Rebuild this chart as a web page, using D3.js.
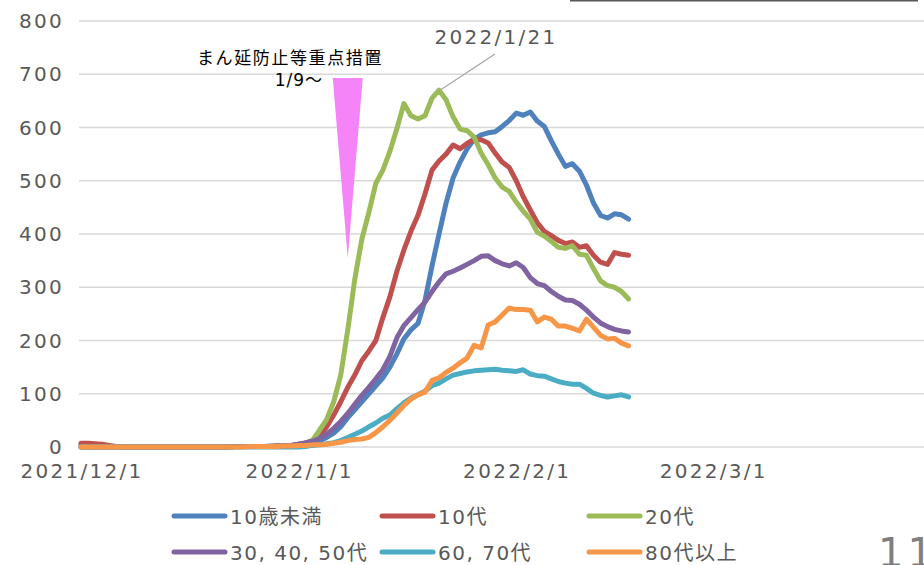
<!DOCTYPE html>
<html>
<meta charset="utf-8">
<style>
body {
  margin: 0;
  background: #fff;
}
svg {
  display: block;
}
.tick-label {
  font: 20px "DejaVu Sans", "Noto Sans CJK JP", sans-serif;
  fill: #595959;
  letter-spacing: 2.3px;
}
.legend text {
  font: 20px "DejaVu Sans", "Noto Sans CJK JP", sans-serif;
  fill: #595959;
  letter-spacing: 1.5px;
}
.grid line {
  stroke: #d9d9d9;
  stroke-width: 1.5;
}
.series {
  fill: none;
  stroke-width: 5;
  stroke-linejoin: round;
  stroke-linecap: round;
}
</style>
<body>
<script src="https://d3js.org/d3.v7.min.js"></script>
<script>
var width = 924, height = 565;

// daily values, 2021/12/1 .. 2022/2/17
var start = new Date(Date.UTC(2021, 11, 1));
var dates = d3.range(79).map(function(i) { return d3.utcDay.offset(start, i); });

var names = ["10歳未満", "10代", "20代", "30, 40, 50代", "60, 70代", "80代以上"];
var colors = ["#4f81bd", "#c0504d", "#9bbb59", "#8064a2", "#4bacc6", "#f79646"];

var under10 = [4,4,3,2,1,1,0,0,0,0, 0,0,0,0,0,0,0,0,0,0, 0,1,1,1,1,1,1,2,2,3,
  3,5,7,9,12,18,26,38,55,70, 85,100,115,130,150,175,203,220,232,275,
  340,400,458,505,535,560,578,586,590,592, 602,613,627,623,629,612,602,575,550,527,
  532,518,492,458,435,430,438,436,428];
var teens = [7,7,6,5,3,1,0,0,0,0, 0,0,0,0,0,0,0,0,0,0, 0,0,1,1,1,1,1,1,2,2,
  3,5,7,9,20,38,60,85,112,135, 162,180,200,243,282,330,370,405,435,475,
  520,537,550,567,560,570,578,577,571,552, 535,525,500,470,445,421,405,397,388,382,
  385,375,378,360,347,343,365,362,360];
var twenties = [0,0,0,0,0,0,0,0,0,0, 0,0,0,0,0,0,0,0,0,0, 0,0,1,1,1,1,1,1,2,3,
  3,4,7,13,32,52,85,135,220,315, 390,440,495,520,555,598,645,622,616,622,
  655,670,652,620,597,594,582,552,530,505, 488,480,460,443,428,403,396,386,375,373,
  378,362,360,335,312,303,300,292,278];
var age30to50 = [0,0,0,0,0,0,0,0,0,0, 0,0,0,0,0,0,0,0,0,0, 0,0,1,1,1,1,1,1,2,2,
  3,5,8,11,16,24,35,48,63,80, 97,112,128,145,170,205,228,243,258,272,
  292,310,325,330,336,343,350,358,359,350, 344,340,346,337,318,307,303,292,283,276,
  275,268,257,244,233,226,221,218,216];
var age60to70 = [0,0,0,0,0,0,0,0,0,0, 0,0,0,0,0,0,0,0,0,0, 0,0,0,0,0,0,0,0,0,0,
  0,0,1,3,4,6,8,12,18,24, 30,38,45,54,60,72,83,92,98,105,
  115,120,128,135,138,141,143,144,145,146, 144,143,142,145,137,134,133,128,123,120,
  118,118,110,101,97,94,96,98,94];
var over80 = [0,0,0,0,0,0,0,0,0,0, 0,0,0,0,0,0,0,0,0,0, 0,0,0,0,1,1,1,1,1,2,
  2,3,3,4,4,5,7,9,12,14, 15,18,27,38,50,64,78,90,98,103,
  125,130,140,148,158,167,191,186,229,235, 248,261,258,258,257,235,244,240,227,227,
  223,218,240,225,210,203,204,195,190];
var seriesValues = [under10, teens, twenties, age30to50, age60to70, over80];

var yTicks = [0, 100, 200, 300, 400, 500, 600, 700, 800];
var xTicks = ["2021-12-01", "2022-01-01", "2022-02-01", "2022-03-01"];
var xTickLabels = ["2021/12/1", "2022/1/1", "2022/2/1", "2022/3/1"];

// annotations
var peakDate = "2022-01-21", peakLabel = "2022/1/21";
var measureDate = "2022-01-08", measureTop = 693, measureTip = 355;

var x = d3.scaleUtc()
    .domain([start, new Date(Date.UTC(2022, 3, 1))])
    .range([81, 81 + 121 * 7.02]);
var y = d3.scaleLinear().domain([0, 800]).range([447, 21]);

var svg = d3.select("body").append("svg")
    .attr("width", width)
    .attr("height", height);

// top frame line
svg.append("line")
    .attr("x1", 570).attr("x2", 918)
    .attr("y1", 0.8).attr("y2", 0.8)
    .attr("stroke", "#595959")
    .attr("stroke-width", 1.6);

// gridlines
svg.append("g").attr("class", "grid")
  .selectAll("line")
  .data(yTicks)
  .enter().append("line")
    .attr("x1", 79).attr("x2", width)
    .attr("y1", function(d) { return y(d); })
    .attr("y2", function(d) { return y(d); });

// y labels
svg.append("g")
  .selectAll("text")
  .data(yTicks)
  .enter().append("text")
    .attr("class", "tick-label")
    .attr("x", 64)
    .attr("y", function(d) { return y(d); })
    .attr("dy", "0.36em")
    .attr("text-anchor", "end")
    .text(function(d) { return d; });

// x labels
svg.append("g")
  .selectAll("text")
  .data(xTicks)
  .enter().append("text")
    .attr("class", "tick-label")
    .attr("x", function(d) { return x(new Date(d + "T00:00:00Z")) + 1; })
    .attr("y", 478)
    .attr("text-anchor", "middle")
    .text(function(d, i) { return xTickLabels[i]; });

// measure marker (triangle)
var mx = x(new Date(measureDate + "T00:00:00Z"));
svg.append("path")
    .attr("d", "M" + (mx - 15) + "," + y(measureTop) +
               "L" + (mx + 15) + "," + y(measureTop) +
               "L" + mx + "," + y(measureTip) + "Z")
    .attr("fill", "#f484f7");

svg.append("text")
    .attr("x", 290)
    .attr("y", 64)
    .attr("text-anchor", "middle")
    .style("font", "17px 'Noto Sans CJK JP', sans-serif")
    .style("letter-spacing", "1.6px")
    .attr("fill", "#000")
    .text("まん延防止等重点措置");
svg.append("text")
    .attr("x", 323)
    .attr("y", 86)
    .attr("text-anchor", "end")
    .style("font", "17px 'DejaVu Sans', 'Noto Sans CJK JP', sans-serif")
    .style("letter-spacing", "1px")
    .attr("fill", "#000")
    .text("1/9～");

// lines
var line = d3.line()
    .x(function(d, i) { return x(dates[i]); })
    .y(function(d) { return y(d); });

svg.selectAll(".series")
    .data(seriesValues)
  .enter().append("path")
    .attr("class", "series")
    .attr("stroke", function(d, i) { return colors[i]; })
    .attr("d", line);

// peak callout
var px = x(new Date(peakDate + "T00:00:00Z"));
var pv = twenties[dates.findIndex(function(d) { return +d === +new Date(peakDate + "T00:00:00Z"); })];
svg.append("line")
    .attr("x1", px + 1).attr("y1", y(pv))
    .attr("x2", 495).attr("y2", 54)
    .attr("stroke", "#a6a6a6")
    .attr("stroke-width", 1.3);
svg.append("text")
    .attr("class", "tick-label")
    .attr("x", 496)
    .attr("y", 44)
    .attr("text-anchor", "middle")
    .text(peakLabel);

// legend
var legendPos = [[172, 516], [380, 516], [587, 516], [172, 552], [380, 552], [587, 552]];
var legend = svg.selectAll(".legend")
    .data(names)
  .enter().append("g")
    .attr("class", "legend")
    .attr("transform", function(d, i) { return "translate(" + legendPos[i][0] + "," + legendPos[i][1] + ")"; });

legend.append("line")
    .attr("x1", 2).attr("x2", 53)
    .attr("stroke", function(d, i) { return colors[i]; })
    .attr("stroke-width", 5)
    .attr("stroke-linecap", "round");

legend.append("text")
    .attr("x", 58)
    .attr("y", 8)
    .text(function(d) { return d; });

// page number
svg.append("text")
    .attr("x", 878)
    .attr("y", 567)
    .style("font", "40px 'DejaVu Sans', sans-serif")
    .style("letter-spacing", "4px")
    .attr("fill", "#7f7f7f")
    .text("11");
</script>
</body>
</html>
